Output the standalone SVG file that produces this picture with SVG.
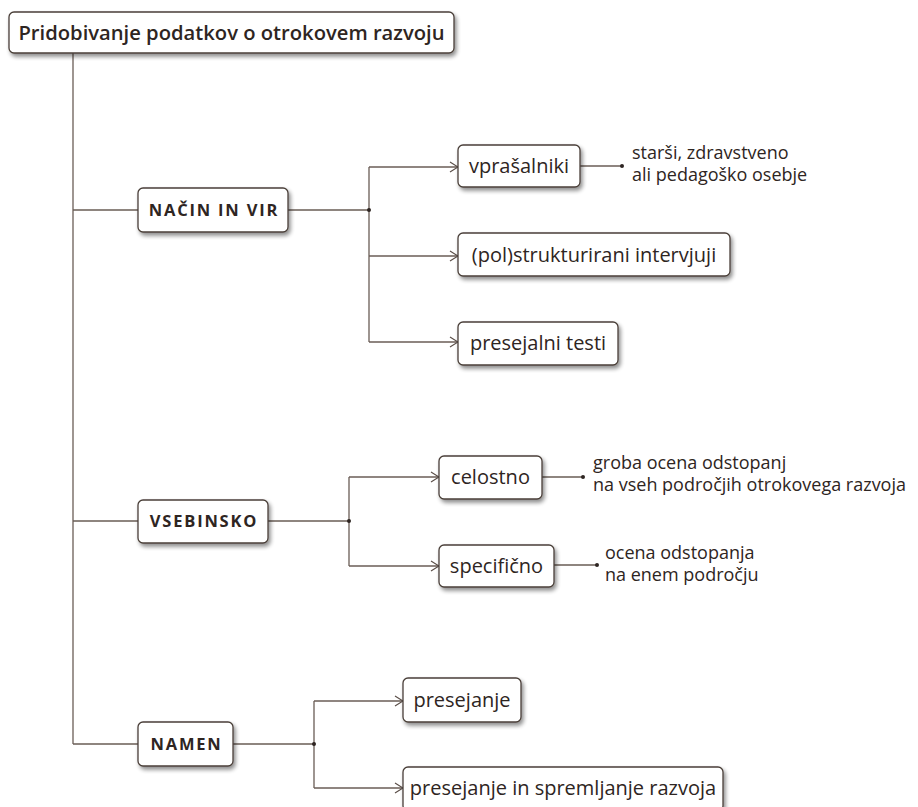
<svg xmlns="http://www.w3.org/2000/svg" width="918" height="807" viewBox="0 0 918 807">
<defs>
<style>
.box{fill:#fff;stroke:#4a3f39;stroke-width:1.3;filter:url(#sh)}
.ln{fill:none;stroke:#6a5d56;stroke-width:1.3}
.arr{marker-end:url(#ah)}
.t{font-family:"Open Sans","Noto Sans","DejaVu Sans",sans-serif;font-size:20px;fill:#2e2522}
.n{font-size:18px}
.b{font-family:"Open Sans","Noto Sans","DejaVu Sans",sans-serif;font-weight:bold;font-size:16.5px;letter-spacing:1.8px;fill:#2e2522}
.h{font-family:"Open Sans","Noto Sans","DejaVu Sans",sans-serif;font-weight:600;font-size:20.2px;fill:#2e2522}
.dot{fill:#2e2522}
</style>
<filter id="sh" x="-10%" y="-20%" width="130%" height="160%">
<feGaussianBlur in="SourceAlpha" stdDeviation="2"/>
<feOffset dx="2" dy="3" result="o"/>
<feComponentTransfer><feFuncA type="linear" slope="0.45"/></feComponentTransfer>
<feMerge><feMergeNode/><feMergeNode in="SourceGraphic"/></feMerge>
</filter>
<marker id="ah" markerWidth="10" markerHeight="12" refX="9" refY="6" orient="auto" markerUnits="userSpaceOnUse">
<path d="M1,1 L9,6 L1,11" fill="none" stroke="#5a4e48" stroke-width="1.2"/>
</marker>
</defs>
<rect width="918" height="807" fill="#fff"/>
<g id="connectors">
<path class="ln" d="M73,53 V744"/>
<path class="ln" d="M73,210 H138 M288,210 H369 M369,167 V342"/>
<path class="ln arr" d="M369,167 H458"/>
<path class="ln arr" d="M369,256 H458"/>
<path class="ln arr" d="M369,342 H458"/>
<path class="ln" d="M580,166 H622"/>
<circle class="dot" cx="369" cy="210" r="2"/>
<circle class="dot" cx="622" cy="166" r="2"/>
<path class="ln" d="M73,521 H138 M268,521 H349 M349,477 V566"/>
<path class="ln arr" d="M349,477 H439"/>
<path class="ln arr" d="M349,566 H439"/>
<path class="ln" d="M542,477 H583 M554,565 H597"/>
<circle class="dot" cx="349" cy="521" r="2"/>
<circle class="dot" cx="583" cy="477" r="2"/>
<circle class="dot" cx="597" cy="565" r="2"/>
<path class="ln" d="M73,744 H138 M233,744 H314 M314,701 V788"/>
<path class="ln arr" d="M314,701 H403"/>
<path class="ln arr" d="M314,788 H403"/>
<circle class="dot" cx="314" cy="744" r="2"/>
</g>
<g id="root">
<rect class="box" x="9" y="12" width="445" height="41" rx="5"/>
<text class="h" x="231.5" y="40" text-anchor="middle">Pridobivanje podatkov o otrokovem razvoju</text>
</g>
<g id="nacin">
<rect class="box" x="138" y="188" width="150" height="44" rx="5"/>
<text class="b" x="214" y="216" text-anchor="middle">NAČIN IN VIR</text>
</g>
<g id="vprasalniki">
<rect class="box" x="458" y="145" width="122" height="42" rx="5"/>
<text class="t" x="519" y="173" text-anchor="middle">vprašalniki</text>
</g>
<g id="vprasalniki-note">
<text class="t n" x="632" y="159">starši, zdravstveno</text>
<text class="t n" x="632" y="181">ali pedagoško osebje</text>
</g>
<g id="intervjuji">
<rect class="box" x="458" y="233" width="272" height="43" rx="5"/>
<text class="t" x="594" y="262" text-anchor="middle">(pol)strukturirani intervjuji</text>
</g>
<g id="testi">
<rect class="box" x="458" y="322" width="160" height="43" rx="5"/>
<text class="t" x="538" y="350" text-anchor="middle">presejalni testi</text>
</g>
<g id="vsebinsko">
<rect class="box" x="138" y="500" width="130" height="43" rx="5"/>
<text class="b" x="204" y="527" text-anchor="middle">VSEBINSKO</text>
</g>
<g id="celostno">
<rect class="box" x="439" y="456" width="103" height="43" rx="5"/>
<text class="t" x="490.5" y="484" text-anchor="middle">celostno</text>
</g>
<g id="celostno-note">
<text class="t n" x="593" y="469">groba ocena odstopanj</text>
<text class="t n" x="593" y="491">na vseh področjih otrokovega razvoja</text>
</g>
<g id="specificno">
<rect class="box" x="439" y="545" width="115" height="42" rx="5"/>
<text class="t" x="496.5" y="573" text-anchor="middle">specifično</text>
</g>
<g id="specificno-note">
<text class="t n" x="605" y="559">ocena odstopanja</text>
<text class="t n" x="605" y="581">na enem področju</text>
</g>
<g id="namen">
<rect class="box" x="138" y="722" width="95" height="44" rx="5"/>
<text class="b" x="186.5" y="750" text-anchor="middle">NAMEN</text>
</g>
<g id="presejanje">
<rect class="box" x="403" y="678" width="118" height="44" rx="5"/>
<text class="t" x="462" y="707" text-anchor="middle">presejanje</text>
</g>
<g id="spremljanje">
<rect class="box" x="403" y="767" width="320" height="44" rx="5"/>
<text class="t" x="563" y="795" text-anchor="middle">presejanje in spremljanje razvoja</text>
</g>
</svg>
